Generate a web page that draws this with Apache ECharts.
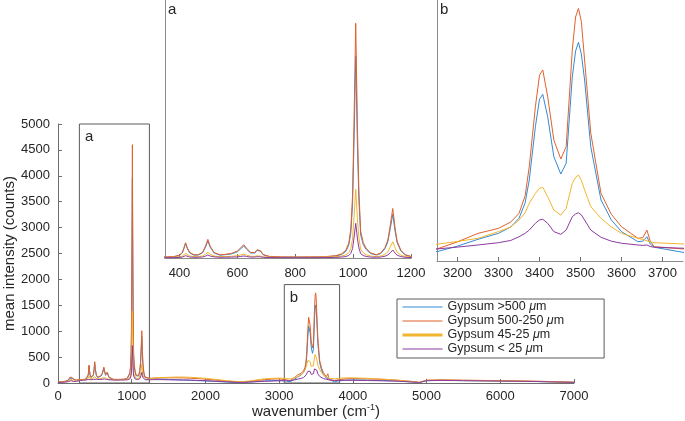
<!DOCTYPE html>
<html>
<head>
<meta charset="utf-8">
<script src="https://cdn.jsdelivr.net/npm/echarts@6/dist/echarts.min.js"></script>
<style>html,body{margin:0;padding:0;background:#fff}#c{width:685px;height:421px}</style>
</head>
<body>
<div id="c"></div>
<script>
// wavenumber (cm-1)
const wn = [0,50,100,140,160,175,190,210,250,300,
350,380,400,410,415,421,427,435,450,465,480,490,498,506,520,540,560,580,600,612,622,632,645,660,668,674,680,690,710,750,800,850,900,940,960,975,985,992,998,1003,1009,1015,1020,1026,1035,1045,1060,1080,1095,1110,1120,1128,1137,1145,1152,1165,1180,1200,
1250,1300,1400,1500,1600,1700,1800,1900,2000,2100,2200,2300,2400,2500,2600,2700,2800,2900,3000,3100,
3150,3200,3250,3300,3330,3350,3365,3375,3390,3400,3408,3420,3435,3452,3465,3480,3488,3495,3502,3510,3525,3550,3575,3600,3640,3652,3662,3670,3680,3750,
3800,3900,4000,4200,4400,4600,4800,4900,5000,5200,5500,6000,6500,7000];

const gypsumOver500 = [15,20,30,50,90,120,90,60,50,58,
65,72,98,150,225,331,235,150,105,108,150,260,380,260,145,105,115,130,170,230,283,220,148,145,198,224,180,108,78,68,66,68,70,88,118,178,300,530,1080,2280,3964,2200,1170,500,310,215,138,108,135,230,365,610,897,570,350,185,108,76,
80,80,75,70,62,58,52,45,40,32,25,18,12,10,18,30,40,45,50,38,
26,65,113,155,200,261,370,531,907,1100,1135,977,695,573,649,1259,1440,1502,1420,1236,766,390,250,167,96,100,131,80,57,21,
40,55,60,55,48,40,20,8,45,52,45,38,28,12];

const gypsum500to250 = [20,25,35,60,110,145,110,70,60,65,
70,78,105,160,240,347,250,160,112,115,160,280,412,280,155,112,122,140,185,250,308,240,160,155,210,238,190,115,82,72,70,72,75,95,130,200,340,610,1250,2650,4600,2550,1350,570,350,240,150,115,145,250,400,670,1010,630,380,200,115,80,
90,95,100,100,100,98,92,85,75,62,48,35,25,20,30,50,65,75,80,60,
45,95,155,190,235,296,420,625,1048,1270,1307,1118,813,679,766,1448,1680,1741,1650,1377,862,437,290,202,120,125,178,100,61,45,
60,80,85,80,70,55,30,10,55,62,55,45,35,15];

const gypsum45to25 = [10,15,22,35,55,70,55,40,40,55,
60,64,72,88,110,141,114,90,76,77,90,122,160,124,88,75,78,83,94,110,122,105,85,82,92,95,86,72,65,62,62,64,66,75,88,110,155,235,420,830,1381,790,440,220,150,115,88,78,88,120,170,260,366,250,165,105,78,64,
80,95,105,110,115,115,110,100,90,75,60,45,32,25,40,60,80,90,95,88,
78,98,120,167,200,249,300,367,437,472,479,413,319,284,331,508,550,566,530,461,343,261,200,155,120,112,103,95,89,80,
90,100,100,90,75,55,28,12,50,55,48,40,30,12];

const gypsumUnder25 = [10,12,18,25,35,45,38,30,30,50,
55,58,62,68,78,95,80,70,63,64,70,86,108,88,72,64,65,67,72,80,89,79,69,68,74,79,72,63,59,57,56,57,58,62,68,78,100,140,230,440,722,420,245,135,98,80,68,64,68,84,108,150,205,145,105,77,64,58,
62,65,65,62,60,58,55,50,45,38,30,22,15,12,18,25,32,38,42,45,
45,58,73,89,105,131,155,178,226,250,254,226,167,148,178,272,292,300,285,249,178,127,100,85,73,70,73,62,57,50,
50,52,52,48,42,35,20,10,45,50,45,38,28,12];

const seriesNames = ['Gypsum >500 μm','Gypsum 500-250 μm','Gypsum 45-25 μm','Gypsum < 25 μm'];
const seriesValues = [gypsumOver500, gypsum500to250, gypsum45to25, gypsumUnder25];
const colors = ['#3389D4','#E2612C','#F1B52E','#8C3B9E'];

// axis ranges: main, inset a, inset b
const mainX = [0, 7000, 1000];
const mainY = [0, 5000, 500];
const insetAX = [350, 1200];
const insetAY = [50, 5050];
const insetBX = [3150, 3750];
const insetBY = [-40, 1800];
// zoom boxes in main plot [x0, x1, y0, y1]
const boxA = [290, 1240, 0, 5000];
const boxB = [3070, 3820, 0, 1900];

const FONT = "'Liberation Sans', Arial, Helvetica, sans-serif";
const TXT = '#262626';
const AX = '#6e6e6e';
const plain = v => String(v);

const chart = echarts.init(document.getElementById('c'), null, {renderer:'canvas'});

function mkX(grid, r, extra) {
  return Object.assign({
    type:'value', gridIndex:grid, min:r[0], max:r[1],
    axisLine:{show:true, onZero:false, lineStyle:{color:AX, width:1}},
    axisTick:{show:true, inside:true, length:4, lineStyle:{color:AX}},
    axisLabel:{fontSize:13, color:TXT, fontFamily:FONT, margin:7, formatter:plain},
    splitLine:{show:false}
  }, extra||{});
}
function mkY(grid, r, extra) {
  return Object.assign({
    type:'value', gridIndex:grid, min:r[0], max:r[1],
    axisLine:{show:true, onZero:false, lineStyle:{color:'#8a8a8a', width:1}},
    axisTick:{show:false}, axisLabel:{show:false},
    splitLine:{show:false}
  }, extra||{});
}

const series = [];
for (let g = 0; g < 3; g++) {
  for (let k = 0; k < 4; k++) {
    const s = {
      type:'line', name:seriesNames[k], xAxisIndex:g, yAxisIndex:g,
      data: wn.map((x,i)=>[x, seriesValues[k][i]]),
      symbol:'none', showSymbol:false, clip:true,
      lineStyle:{width:1, color:colors[k]}, itemStyle:{color:colors[k]},
      silent:true, animation:false
    };
    if (g === 0 && k === 0) {
      s.markArea = {
        silent:true,
        itemStyle:{color:'rgba(0,0,0,0)', borderColor:'#5a5a5a', borderWidth:1},
        label:{show:true, position:'insideTopLeft', fontSize:15, color:TXT, fontFamily:FONT, distance:6},
        data:[
          [{name:'a', coord:[boxA[0], boxA[2]]}, {coord:[boxA[1], boxA[3]]}],
          [{name:'b', coord:[boxB[0], boxB[2]]}, {coord:[boxB[1], boxB[3]]}]
        ]
      };
    }
    series.push(s);
  }
}

const option = {
  animation:false,
  backgroundColor:'#fff',
  textStyle:{fontFamily:FONT},
  grid:[
    {left:58, right:111, top:124, bottom:38, containLabel:false, outerBoundsMode:'none'},
    {left:165, right:274, top:0, bottom:163, containLabel:false, outerBoundsMode:'none'},
    {left:437, right:2, top:0, bottom:160, containLabel:false, outerBoundsMode:'none'}
  ],
  xAxis:[
    mkX(0, mainX, {interval:mainX[2],
      name:'{a|wavenumber (cm}{s|-1}{a|)}', nameLocation:'middle', nameGap:20,
      nameMoveOverlap:false,
      nameTextStyle:{rich:{a:{fontSize:15, color:TXT, fontFamily:FONT}, s:{fontSize:9, color:TXT, fontFamily:FONT, padding:[0,0,9,0]}}}}),
    mkX(1, insetAX, {axisLine:{show:true, onZero:false, lineStyle:{color:'#8a8a8a'}}, axisLabel:{fontSize:13, color:TXT, fontFamily:FONT, margin:9, showMinLabel:false, formatter:plain}}),
    mkX(2, insetBX, {axisLine:{show:true, onZero:false, lineStyle:{color:'#8a8a8a'}}, axisLabel:{fontSize:13, color:TXT, fontFamily:FONT, margin:6, showMinLabel:false, showMaxLabel:false, formatter:plain}})
  ],
  yAxis:[
    mkY(0, mainY, {interval:mainY[2],
      axisLine:{show:true, onZero:false, lineStyle:{color:AX, width:1}},
      axisTick:{show:true, inside:true, length:4, lineStyle:{color:AX}},
      axisLabel:{show:true, fontSize:13, color:TXT, fontFamily:FONT, margin:8, formatter:plain},
      name:'mean intensity (counts)', nameLocation:'middle', nameGap:41, nameRotate:90,
      nameMoveOverlap:false,
      nameTextStyle:{fontSize:15, color:TXT, fontFamily:FONT}}),
    mkY(1, insetAY),
    mkY(2, insetBY)
  ],
  legend:{
    orient:'vertical', left:397, top:299,
    itemWidth:40, itemHeight:10, itemGap:0,
    padding:[1,40,2,4],
    borderColor:'#5a5a5a', borderWidth:1, backgroundColor:'#fff',
    selectedMode:false,
    itemStyle:{opacity:0},
    textStyle:{fontSize:12.5, lineHeight:14, color:TXT, fontFamily:FONT,
      rich:{t:{fontSize:12.5, color:TXT, fontFamily:FONT}, i:{fontSize:12.5, color:TXT, fontFamily:FONT, fontStyle:'italic'}}},
    formatter: n => '{t|' + n.replace(' μm','') + ' }{i|μ}{t|m}',
    data: seriesNames.map((n,k)=>({name:n, itemStyle:{opacity:0}, lineStyle:{width: k===2 ? 3 : 1.2, color:colors[k]}}))
  },
  graphic:[
    {type:'text', left:168, top:2, style:{text:'a', fontSize:15, fill:TXT, fontFamily:FONT}},
    {type:'text', left:440, top:2, style:{text:'b', fontSize:15, fill:TXT, fontFamily:FONT}}
  ],
  series: series
};
chart.setOption(option);
</script>
</body>
</html>
